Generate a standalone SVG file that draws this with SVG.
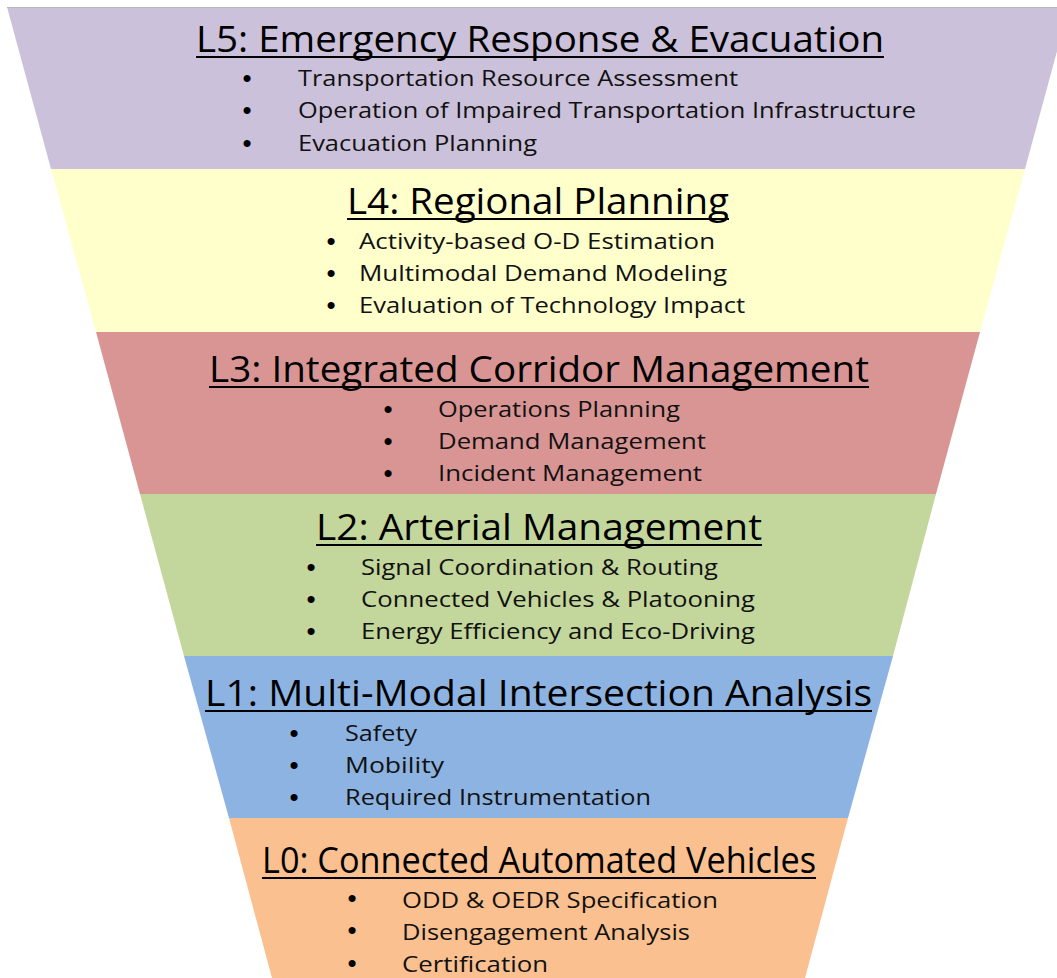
<svg xmlns="http://www.w3.org/2000/svg" width="1057" height="978" viewBox="0 0 1057 978">
<style>
.t{font-family:"Open Sans","Noto Sans","Liberation Sans",sans-serif;font-size:36px;fill:#000;}
.i{font-family:"Open Sans","Noto Sans","Liberation Sans",sans-serif;font-size:22px;fill:#111;}
.b{font-family:"Liberation Sans",sans-serif;font-size:26px;fill:#000;text-anchor:middle;}
.u{stroke:#000;stroke-width:2;}
</style>
<rect width="1057" height="978" fill="#fff"/>
<g id="L5">
<polygon points="7,7 1069,7 1025,169 51,169" fill="#CCC1DA"/>
<line x1="7" y1="7.5" x2="1057" y2="7.5" stroke="#b8b8b8" stroke-width="1"/>
<text class="t" x="196" y="52" textLength="688" lengthAdjust="spacingAndGlyphs">L5: Emergency Response &amp; Evacuation</text>
<line class="u" x1="196" y1="57" x2="884" y2="57"/>
<text class="b" x="247" y="87">•</text><text class="i" x="298" y="86" textLength="440" lengthAdjust="spacingAndGlyphs">Transportation Resource Assessment</text>
<text class="b" x="247" y="119">•</text><text class="i" x="298" y="118" textLength="618" lengthAdjust="spacingAndGlyphs">Operation of Impaired Transportation Infrastructure</text>
<text class="b" x="247" y="152">•</text><text class="i" x="298" y="151" textLength="239" lengthAdjust="spacingAndGlyphs">Evacuation Planning</text>
</g>
<g id="L4">
<polygon points="51,169 1025,169 980,332 96,332" fill="#FFFFCC"/>
<text class="t" x="347" y="214" textLength="382" lengthAdjust="spacingAndGlyphs">L4: Regional Planning</text>
<line class="u" x1="347" y1="219" x2="729" y2="219"/>
<text class="b" x="331" y="250">•</text><text class="i" x="359" y="249" textLength="356" lengthAdjust="spacingAndGlyphs">Activity-based O-D Estimation</text>
<text class="b" x="331" y="282">•</text><text class="i" x="359" y="281" textLength="368" lengthAdjust="spacingAndGlyphs">Multimodal Demand Modeling</text>
<text class="b" x="331" y="314">•</text><text class="i" x="359" y="313" textLength="386" lengthAdjust="spacingAndGlyphs">Evaluation of Technology Impact</text>
</g>
<g id="L3">
<polygon points="96,332 980,332 936,494 140,494" fill="#D99594"/>
<text class="t" x="209" y="382" textLength="660" lengthAdjust="spacingAndGlyphs">L3: Integrated Corridor Management</text>
<line class="u" x1="209" y1="387" x2="869" y2="387"/>
<text class="b" x="388" y="418">•</text><text class="i" x="438" y="417" textLength="242" lengthAdjust="spacingAndGlyphs">Operations Planning</text>
<text class="b" x="388" y="450">•</text><text class="i" x="438" y="449" textLength="268" lengthAdjust="spacingAndGlyphs">Demand Management</text>
<text class="b" x="388" y="482">•</text><text class="i" x="438" y="481" textLength="264" lengthAdjust="spacingAndGlyphs">Incident Management</text>
</g>
<g id="L2">
<polygon points="140,494 936,494 893,656 184,656" fill="#C3D69B"/>
<text class="t" x="316" y="540" textLength="446" lengthAdjust="spacingAndGlyphs">L2: Arterial Management</text>
<line class="u" x1="316" y1="545" x2="762" y2="545"/>
<text class="b" x="311" y="576">•</text><text class="i" x="361" y="575" textLength="357" lengthAdjust="spacingAndGlyphs">Signal Coordination &amp; Routing</text>
<text class="b" x="311" y="608">•</text><text class="i" x="361" y="607" textLength="394" lengthAdjust="spacingAndGlyphs">Connected Vehicles &amp; Platooning</text>
<text class="b" x="311" y="640">•</text><text class="i" x="361" y="639" textLength="394" lengthAdjust="spacingAndGlyphs">Energy Efficiency and Eco-Driving</text>
</g>
<g id="L1">
<polygon points="184,656 893,656 848,818 229,818" fill="#8DB3E2"/>
<text class="t" x="205" y="706" textLength="667" lengthAdjust="spacingAndGlyphs">L1: Multi-Modal Intersection Analysis</text>
<line class="u" x1="205" y1="711" x2="872" y2="711"/>
<text class="b" x="294" y="742">•</text><text class="i" x="345" y="741" textLength="72" lengthAdjust="spacingAndGlyphs">Safety</text>
<text class="b" x="294" y="774">•</text><text class="i" x="345" y="773" textLength="99" lengthAdjust="spacingAndGlyphs">Mobility</text>
<text class="b" x="294" y="806">•</text><text class="i" x="345" y="805" textLength="306" lengthAdjust="spacingAndGlyphs">Required Instrumentation</text>
</g>
<g id="L0">
<polygon points="229,818 848,818 805,978 272,978" fill="#FAC090"/>
<text class="t" x="262" y="873" textLength="554" lengthAdjust="spacingAndGlyphs">L0: Connected Automated Vehicles</text>
<line class="u" x1="262" y1="878" x2="816" y2="878"/>
<text class="b" x="352" y="907">•</text><text class="i" x="402" y="908" textLength="316" lengthAdjust="spacingAndGlyphs">ODD &amp; OEDR Specification</text>
<text class="b" x="352" y="939">•</text><text class="i" x="402" y="940" textLength="288" lengthAdjust="spacingAndGlyphs">Disengagement Analysis</text>
<text class="b" x="352" y="972">•</text><text class="i" x="402" y="972" textLength="146" lengthAdjust="spacingAndGlyphs">Certification</text>
</g>
<g id="connectors"></g>
</svg>
